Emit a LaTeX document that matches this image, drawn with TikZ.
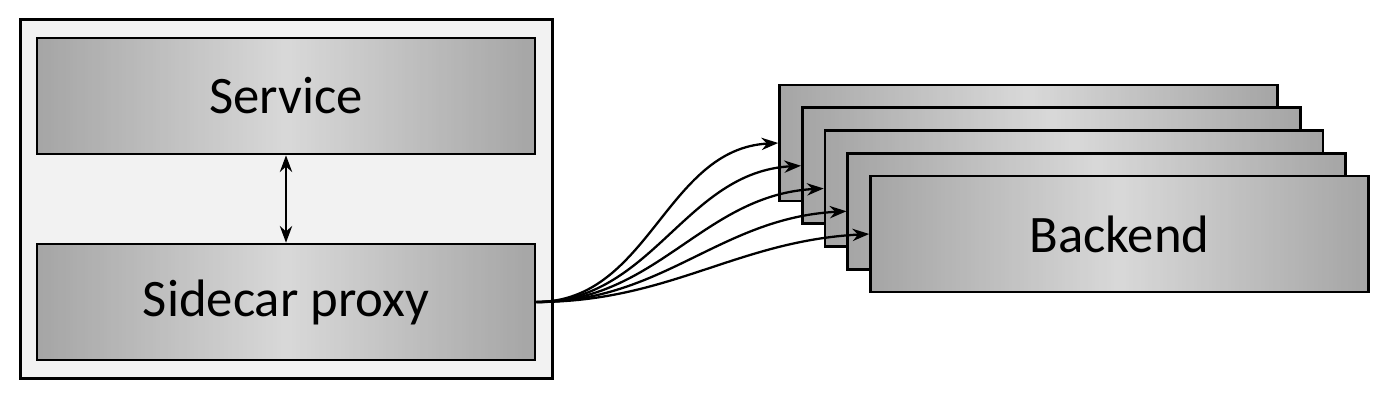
\documentclass[tikz,border=0pt]{standalone}
\usepackage{fontspec}
\setmainfont{Carlito}
\usetikzlibrary{arrows.meta}
\definecolor{boxgray}{HTML}{B0B0B0}
\definecolor{boxlight}{HTML}{F2F2F2}
\definecolor{podgray}{HTML}{F2F2F2}
\tikzset{
	box/.style={draw, line width=1.5pt, inner sep=0pt,
		minimum width=9.96cm, minimum height=2.32cm,
		left color=boxgray, right color=boxgray, middle color=boxlight,
		path picture={\shade[top color=gray, middle color=white, bottom color=gray, opacity=0.22]
			(path picture bounding box.south west) rectangle (path picture bounding box.north east);},
		font=\fontsize{30}{36}\selectfont},
	link/.style={line width=1.3pt, -{Stealth[length=9.5pt,width=7pt]}}
}

\begin{document}
\begin{tikzpicture}[x=0.02cm,y=-0.02cm]
	\useasboundingbox (0,0) rectangle (1400,403);
	\node[draw, line width=1.7pt, fill=podgray, minimum width=10.66cm, minimum height=7.2cm] (pod) at (286.5,199) {};
	\node[box] (service) at (286,96) {Service};
	\node[box] (sidecar) at (286,302) {Sidecar proxy};
	\draw[line width=1.3pt, {Stealth[length=9.5pt,width=7pt]}-{Stealth[length=9.5pt,width=7pt]}] (service) -- (sidecar);
	\foreach \i/\txt in {1/,2/,3/,4/,5/Backend}
		\node[box] (backend\i) at ({1028.5+22.75*(\i-1)},{143+22.75*(\i-1)}) {\txt};
	\foreach \i in {1,...,5}
		\draw[link] (sidecar.east) to[out=0,in=183] (backend\i.west);
\end{tikzpicture}
\end{document}
